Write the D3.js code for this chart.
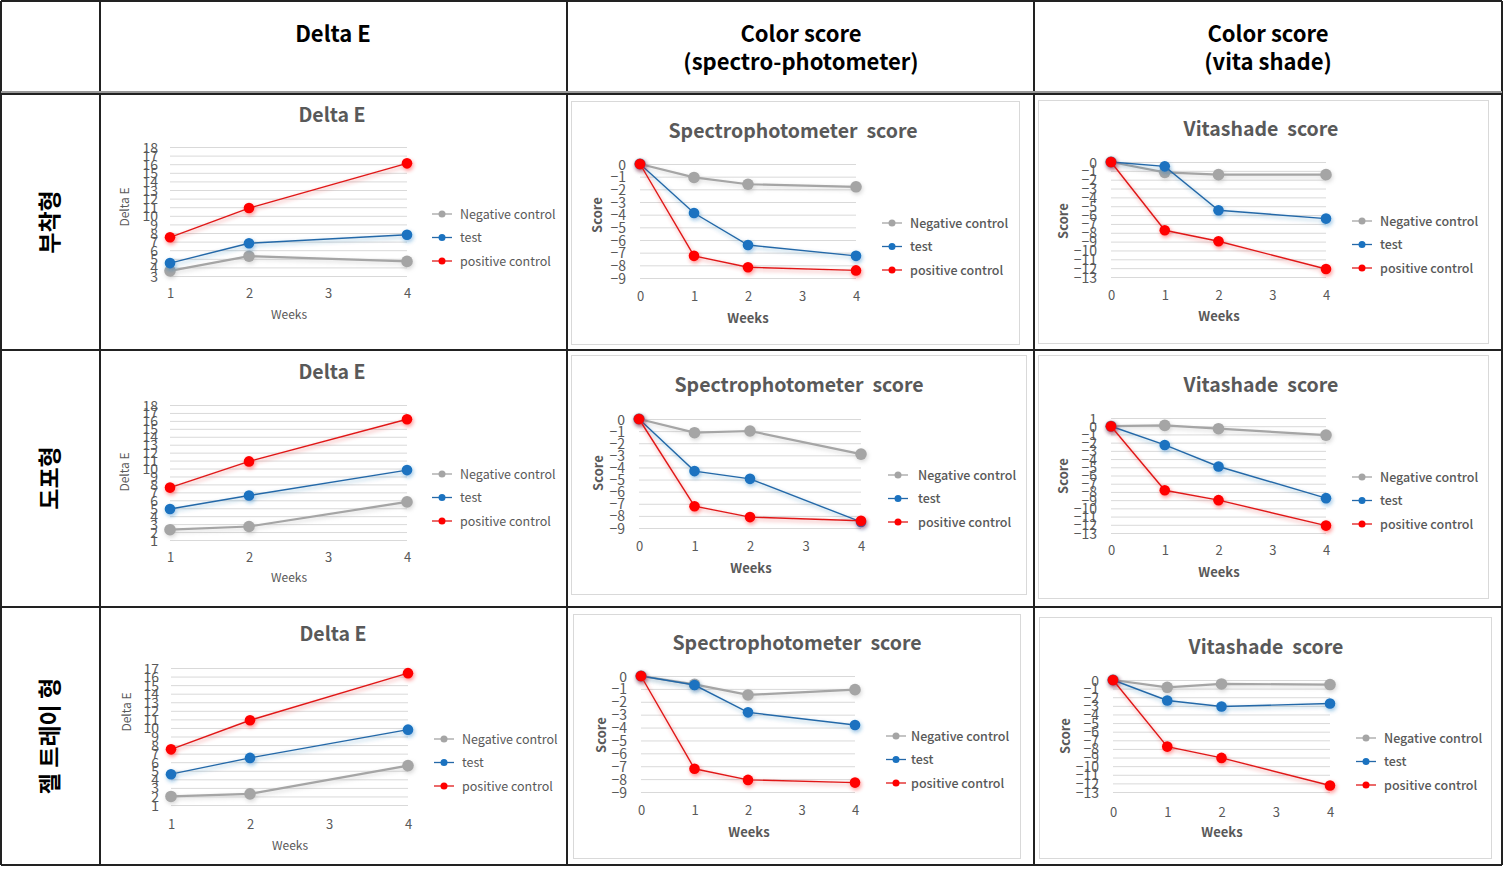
<!DOCTYPE html>
<html><head><meta charset="utf-8">
<script src="https://cdn.jsdelivr.net/npm/d3@7"></script>
<style>
body{margin:0;background:#fff}
svg{display:block}
text{font-family:"Noto Sans CJK KR","Noto Sans",sans-serif}
</style>
</head><body><svg id="c" width="1504" height="873"></svg>
<script>
// ---------- DATA ----------
const headerLabels = [["Delta E"], ["Color score", "(spectro-photometer)"], ["Color score", "(vita shade)"]];
const rowLabels = ["부착형", "도포형", "젤 트레이 형"];
const seriesNames = ["Negative control", "test", "positive control"];
const chartTitles = ["Delta E", "Spectrophotometer  score", "Vitashade  score"];
const yTitles = ["Delta E", "Score", "Score"];
const xTitle = "Weeks";
const deltaWeeks = ["1", "2", "3", "4"];
const scoreWeeks = ["0", "1", "2", "3", "4"];

const deltaTicksRow1 = [3, 4, 5, 6, 7, 8, 9, 10, 11, 12, 13, 14, 15, 16, 17, 18];
const deltaTicksRow2 = [1, 2, 3, 4, 5, 6, 7, 8, 9, 10, 11, 12, 13, 14, 15, 16, 17, 18];
const deltaTicksRow3 = [1, 2, 3, 4, 5, 6, 7, 8, 9, 10, 11, 12, 13, 14, 15, 16, 17];
const spectroTicks = [0, -1, -2, -3, -4, -5, -6, -7, -8, -9];
const vitaTicksRow1 = [0, -1, -2, -3, -4, -5, -6, -7, -8, -9, -10, -11, -12, -13];
const vitaTicksRow2 = [1, 0, -1, -2, -3, -4, -5, -6, -7, -8, -9, -10, -11, -12, -13];
const vitaTicksRow3 = [0, -1, -2, -3, -4, -5, -6, -7, -8, -9, -10, -11, -12, -13];

// Delta E (weeks 1,2,3,4; week 3 not measured)
const deltaNeg  = [[3.6, 5.3, null, 4.7], [2.3, 2.7, null, 5.8], [2.0, 2.3, null, 5.6]];
const deltaTest = [[4.5, 6.8, null, 7.8], [4.9, 6.6, null, 9.8], [4.6, 6.5, null, 9.8]];
const deltaPos  = [[7.5, 10.9, null, 16.1], [7.6, 10.9, null, 16.2], [7.5, 10.9, null, 16.4]];

// Spectrophotometer score (weeks 0..4; week 3 not measured)
const spectroNeg  = [[0, -1.06, -1.6, null, -1.8], [0, -1.13, -0.99, null, -2.9], [0, -0.65, -1.47, null, -1.06]];
const spectroTest = [[0, -3.87, -6.4, null, -7.25], [0, -4.3, -4.94, null, -8.5], [0, -0.7, -2.82, null, -3.8]];
const spectroPos  = [[0, -7.25, -8.15, null, -8.4], [0, -7.2, -8.1, null, -8.4], [0, -7.2, -8.06, null, -8.27]];

// Vitashade score (weeks 0..4; week 3 not measured)
const vitaNeg  = [[0, -1.17, -1.43, null, -1.43], [0, 0.1, -0.3, null, -1.08], [0, -0.85, -0.46, null, -0.53]];
const vitaTest = [[0, -0.49, -5.46, null, -6.4], [0, -2.28, -4.9, null, -8.76], [0, -2.38, -3.07, null, -2.73]];
const vitaPos  = [[0, -7.72, -8.96, null, -12.1], [0, -7.8, -9.0, null, -12.1], [0, -7.73, -9.04, null, -12.24]];

// ---------- STYLE / LAYOUT ----------
const lineColors = ["#a5a5a5", "#2468a8", "#e01818"];
const markColors = ["#a5a5a5", "#1a72c0", "#ff0000"];
const lineWidths = [2.2, 1.4, 1.4];
const FONT_TXT = "#595959";

const svg = d3.select("#c");
const defs = svg.append("defs");
const f = defs.append("filter").attr("id", "sh").attr("filterUnits", "userSpaceOnUse")
  .attr("x", 0).attr("y", 0).attr("width", 1504).attr("height", 873);
f.append("feGaussianBlur").attr("in", "SourceGraphic").attr("stdDeviation", 2).attr("result", "b");
f.append("feOffset").attr("in", "b").attr("dx", 1).attr("dy", 2).attr("result", "o");
const ct = f.append("feComponentTransfer").attr("in", "o").attr("result", "t");
ct.append("feFuncA").attr("type", "linear").attr("slope", 0.45);
const fm = f.append("feMerge");
fm.append("feMergeNode").attr("in", "t");
fm.append("feMergeNode").attr("in", "SourceGraphic");

// table grid
const colX = [1, 100, 567, 1034, 1502];
const rowY = [1, 93, 350, 607, 865];

// header text
const headerCx = [333, 801, 1268];
headerLabels.forEach((lines, i) => {
  const t = svg.append("text").attr("x", headerCx[i]).attr("text-anchor", "middle")
    .attr("font-size", 22).attr("font-weight", 700).attr("fill", "#000");
  lines.forEach((l, j) => t.append("tspan").attr("x", headerCx[i]).attr("y", 42 + j * 28).text(l));
});
// row labels
const rowCy = [222, 478, 736];
rowLabels.forEach((l, i) => {
  svg.append("text").attr("transform", `translate(58,${rowCy[i]}) rotate(-90)`)
    .attr("text-anchor", "middle").attr("font-size", 23).attr("font-weight", 700)
    .attr("fill", "#000").text(l);
});

// chart layouts (positions only)
const layouts = {
  delta: [
    {x0: 170, x1: 407, yT: 147, yB: 276, title: [332, 115], tickY: 293, xl: [289, 315], yl: [125, 207], lg: [432, 460, 214], frame: null},
    {x0: 170, x1: 407, yT: 405, yB: 540, title: [332, 372], tickY: 557, xl: [289, 578], yl: [125, 472], lg: [432, 460, 474], frame: null},
    {x0: 171, x1: 408, yT: 668, yB: 805, title: [333, 634], tickY: 824, xl: [290, 846], yl: [127, 712], lg: [434, 462, 739], frame: null}
  ],
  spectro: [
    {x0: 640, x1: 856, yT: 164, yB: 278, title: [793, 131], tickY: 296, xl: [748, 318], yl: [597, 215], lg: [882, 910, 223], frame: [571, 101, 448, 243]},
    {x0: 639, x1: 861, yT: 419, yB: 528, title: [799, 385], tickY: 546, xl: [751, 568], yl: [598, 473], lg: [888, 918, 475], frame: [571, 355, 455, 239]},
    {x0: 641, x1: 855, yT: 676, yB: 792, title: [797, 643], tickY: 810, xl: [749, 832], yl: [601, 735], lg: [886, 911, 736], frame: [573, 614, 447, 244]}
  ],
  vita: [
    {x0: 1111, x1: 1326, yT: 162, yB: 277, title: [1261, 129], tickY: 295, xl: [1219, 316], yl: [1063, 221], lg: [1352, 1380, 221], frame: [1038, 100, 450, 243]},
    {x0: 1111, x1: 1326, yT: 418, yB: 533, title: [1261, 385], tickY: 550, xl: [1219, 572], yl: [1063, 476], lg: [1352, 1380, 477], frame: [1038, 355, 450, 243]},
    {x0: 1113, x1: 1330, yT: 680, yB: 792, title: [1266, 647], tickY: 812, xl: [1222, 832], yl: [1065, 736], lg: [1356, 1384, 738], frame: [1039, 617, 452, 241]}
  ]
};

function drawChart(L, weeks, ticks, series, kind) {
  const g = svg.append("g");
  const isDelta = kind === 0;
  if (L.frame) {
    g.append("rect").attr("x", L.frame[0] + 0.5).attr("y", L.frame[1] + 0.5)
      .attr("width", L.frame[2]).attr("height", L.frame[3])
      .attr("fill", "#fff").attr("stroke", "#d9d9d9").attr("stroke-width", 1);
  }
  const x = d3.scalePoint().domain(weeks).range([L.x0, L.x1]);
  const y = d3.scaleLinear().domain([d3.min(ticks), d3.max(ticks)]).range([L.yB, L.yT]);

  // gridlines
  const grid = g.append("g").attr("transform", `translate(${L.x0},0)`)
    .call(d3.axisLeft(y).tickValues(ticks).tickSize(-(L.x1 - L.x0)).tickFormat(""));
  grid.select(".domain").remove();
  grid.selectAll("line").attr("stroke", "#d9d9d9").attr("stroke-width", 1);

  // y axis labels
  const ya = g.append("g").attr("transform", `translate(${L.x0},0)`)
    .call(d3.axisLeft(y).tickValues(ticks).tickSize(0).tickPadding(isDelta ? 12 : 14).tickFormat(d3.format("d")));
  ya.select(".domain").remove();
  ya.selectAll("text").attr("font-size", 14).attr("fill", FONT_TXT)
    .attr("font-family", "'Noto Sans CJK KR','Noto Sans',sans-serif").attr("dy", "0.36em");

  // x axis labels
  const xa = g.append("g").attr("transform", `translate(0,${L.tickY})`)
    .call(d3.axisBottom(x).tickSize(0).tickPadding(0));
  xa.select(".domain").remove();
  xa.selectAll("text").attr("y", 0).attr("dy", "0.36em").attr("font-size", 13)
    .attr("fill", FONT_TXT).attr("font-family", "'Noto Sans CJK KR','Noto Sans',sans-serif");

  // titles
  g.append("text").attr("x", L.title[0]).attr("y", L.title[1]).attr("dy", "0.36em")
    .attr("text-anchor", "middle").attr("font-size", 19.5).attr("font-weight", 700)
    .attr("fill", FONT_TXT).style("white-space", "pre").text(chartTitles[kind]);
  g.append("text").attr("x", L.xl[0]).attr("y", L.xl[1]).attr("dy", "0.36em")
    .attr("text-anchor", "middle").attr("font-size", isDelta ? 12 : 13)
    .attr("font-weight", isDelta ? 400 : 700).attr("fill", FONT_TXT).text(xTitle);
  g.append("text").attr("transform", `translate(${L.yl[0]},${L.yl[1]}) rotate(-90)`).attr("dy", "0.36em")
    .attr("text-anchor", "middle").attr("font-size", isDelta ? 12 : 13)
    .attr("font-weight", isDelta ? 400 : 700).attr("fill", FONT_TXT).text(yTitles[kind]);

  // series
  series.forEach((vals, si) => {
    const pts = vals.map((v, i) => ({w: weeks[i], v})).filter(d => d.v !== null);
    const line = d3.line().x(d => x(d.w)).y(d => y(d.v));
    const sg = g.append("g").attr("filter", "url(#sh)");
    sg.append("path").attr("d", line(pts)).attr("fill", "none")
      .attr("stroke", lineColors[si]).attr("stroke-width", lineWidths[si]);
    sg.selectAll("circle").data(pts).join("circle")
      .attr("cx", d => x(d.w)).attr("cy", d => y(d.v)).attr("r", si === 0 ? 5.8 : 5.3)
      .attr("fill", markColors[si]);
  });

  // legend
  seriesNames.forEach((name, si) => {
    const ly = L.lg[2] + si * 23.5;
    const lg = g.append("g");
    lg.append("line").attr("x1", L.lg[0]).attr("x2", L.lg[0] + 20).attr("y1", ly).attr("y2", ly)
      .attr("stroke", lineColors[si]).attr("stroke-width", 1.3);
    lg.append("circle").attr("cx", L.lg[0] + 10).attr("cy", ly).attr("r", 3.5).attr("fill", markColors[si]);
    lg.append("text").attr("x", L.lg[1]).attr("y", ly).attr("dy", "0.36em")
      .attr("font-size", 12.5).attr("font-weight", isDelta ? 400 : 500).attr("fill", FONT_TXT).text(name);
  });
}

const deltaTicks = [deltaTicksRow1, deltaTicksRow2, deltaTicksRow3];
const vitaTicks = [vitaTicksRow1, vitaTicksRow2, vitaTicksRow3];
for (let r = 0; r < 3; r++) {
  drawChart(layouts.delta[r], deltaWeeks, deltaTicks[r], [deltaNeg[r], deltaTest[r], deltaPos[r]], 0);
  drawChart(layouts.spectro[r], scoreWeeks, spectroTicks, [spectroNeg[r], spectroTest[r], spectroPos[r]], 1);
  drawChart(layouts.vita[r], scoreWeeks, vitaTicks[r], [vitaNeg[r], vitaTest[r], vitaPos[r]], 2);
}

// table lines on top
const tl = svg.append("g").attr("stroke", "#222").attr("stroke-width", 1.3).attr("shape-rendering", "crispEdges");
colX.forEach(xv => tl.append("line").attr("x1", xv).attr("x2", xv).attr("y1", rowY[0]).attr("y2", rowY[4]));
rowY.forEach((yv, i) => {
  if (i === 1) {
    tl.append("line").attr("x1", colX[0]).attr("x2", colX[4]).attr("y1", yv - 1).attr("y2", yv - 1).attr("stroke", "#999").attr("stroke-width", 1.5);
    tl.append("line").attr("x1", colX[0]).attr("x2", colX[4]).attr("y1", yv + 1).attr("y2", yv + 1).attr("stroke-width", 1.5);
  } else {
    tl.append("line").attr("x1", colX[0]).attr("x2", colX[4]).attr("y1", yv).attr("y2", yv);
  }
});
</script>
</body></html>
